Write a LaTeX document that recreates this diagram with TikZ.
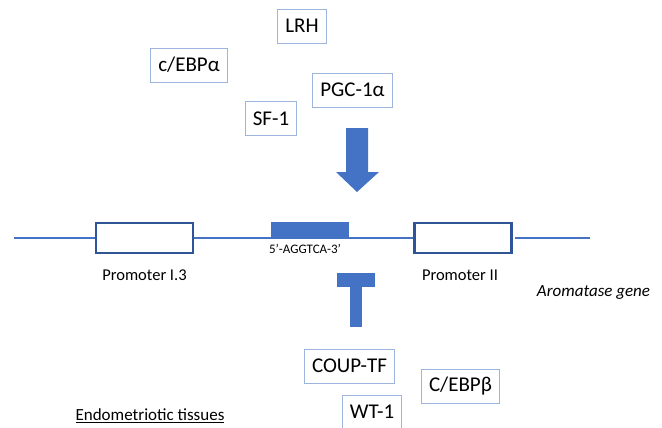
\documentclass[tikz,border=0pt]{standalone}
\usepackage{fontspec}
\setmainfont{Carlito}
\usetikzlibrary{positioning}
\definecolor{geneblue}{HTML}{4472C4}
\definecolor{promblue}{HTML}{2F5597}
\definecolor{boxblue}{HTML}{9DB4DE}
\begin{document}
\begin{tikzpicture}[x=1pt, y=-1pt,
  tf/.style={draw=boxblue, line width=0.9pt, font=\fontsize{21}{24}\selectfont, inner xsep=7.5pt, minimum height=34pt},
  prom/.style={draw=promblue, line width=2.4pt, fill=white, minimum width=97pt, minimum height=30pt},
  lbl/.style={inner sep=0pt, font=\fontsize{16.5}{19}\selectfont}]
\useasboundingbox (0,0) rectangle (662,428);

% transcription factors (top)
\node[tf] (lrh)   at (302,26)    {LRH};
\node[tf] (cebpa) at (189,65)    {c/EBPα};
\node[tf] (pgc)   at (352.5,90)  {PGC-1α};
\node[tf] (sf1)   at (271,118.5) {SF-1};

% activating arrow
\fill[geneblue] (346,128) -- (368,128) -- (368,172) -- (379,172) -- (357,192)
  -- (336,172) -- (346,172) -- cycle;

% gene
\coordinate (gstart) at (14,238);
\coordinate (gend)   at (590,238);
\node[prom] (p13) at (144.5,238) {};
\node[prom] (p2)  at (463,238)   {};
\draw[geneblue, line width=2pt] (gstart) -- (p13.west);
\draw[geneblue, line width=2pt] (p13.east) -- (p2.west);
\draw[geneblue, line width=2pt] ([xshift=2pt]p2.east) -- (gend);
\node[fill=geneblue, minimum width=78pt, minimum height=16pt, inner sep=0pt, anchor=south] (site) at (310,238) {};
\node[inner sep=0pt, font=\fontsize{13}{15}\selectfont] (seq) at (305,249) {5’-AGGTCA-3’};
\node[lbl] (lp13) at (144.5,275.5) {Promoter I.3};
\node[lbl] (lp2)  at (460,275.5)   {Promoter II};
\node[lbl, font=\fontsize{17}{20}\selectfont\itshape] (gene) at (593.5,293) {Aromatase gene};

% repressing bar
\fill[geneblue] (337,273) rectangle (375,287);
\fill[geneblue] (350,287) rectangle (362,327);

% transcription factors (bottom)
\node[tf] (coup)  at (349.5,366) {COUP-TF};
\node[tf] (cebpb) at (460.5,386.5) {C/EBPβ};
\node[tf] (wt1)   at (372,412)   {WT-1};

\node[lbl, font=\fontsize{17}{20}\selectfont] (tissue) at (150,416) {\underline{Endometriotic tissues}};
\end{tikzpicture}
\end{document}
